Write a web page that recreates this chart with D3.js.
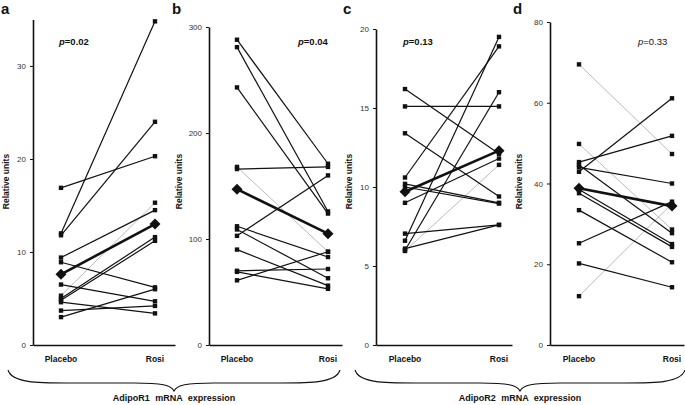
<!DOCTYPE html>
<html><head><meta charset="utf-8">
<script src="https://cdn.jsdelivr.net/npm/d3@7"></script>
<style>body{margin:0;background:#fff;} svg{display:block;font-family:"Liberation Sans",Arial,Helvetica,sans-serif;}</style>
</head><body><svg id="chart" width="685" height="405"></svg>
<script>
// ---------- data ----------
const groups = ["Placebo", "Rosi"];
const panelLetters = ["a", "b", "c", "d"];
const pValues = ["0.02", "0.04", "0.13", "0.33"];
const yLabel = "Relative units";
const geneLabels = ["AdipoR1 mRNA expression", "AdipoR2 mRNA expression"];

const aTicks = [0, 10, 20, 30];
const bTicks = [0, 100, 200, 300];
const cTicks = [0, 5, 10, 15, 20];
const dTicks = [0, 20, 40, 60, 80];

const aPlacebo = [16.9, 12.0, 11.8, 9.4, 8.9, 6.5, 5.3, 5.0, 4.8, 4.6, 3.7, 3.0];
const aRosi    = [20.3, 34.8, 24.0, 14.5, 6.2, 4.7, 15.3, 11.6, 11.2, 3.4, 4.2, 6.0];
const aGrey = [6];
const aMean = [7.6, 13.0];

const bPlacebo = [288, 281, 243, 168, 166, 112, 109, 103, 90, 70, 69, 61];
const bRosi    = [171, 126, 124, 88, 168, 83, 63, 160, 56, 71.7, 53, 88];
const bGrey = [3];
const bMean = [147, 105];

const cPlacebo = [16.2, 15.1, 13.4, 10.6, 10.2, 10.0, 9.0, 7.05, 6.6, 6.1, 6.0, 5.95];
const cRosi    = [12.1, 15.1, 9.4, 18.9, 9.0, 8.95, 11.8, 7.6, 19.5, 7.6, 16.0, 11.4];
const cGrey = [11];
const cMean = [9.7, 12.3];

const dPlacebo = [69.5, 49.8, 45.3, 44.6, 44.0, 42.9, 38.5, 37.6, 33.4, 25.2, 20.2, 12.1];
const dRosi    = [47.3, 28.6, 51.8, 27.7, 40.0, 61.1, 25.0, 24.3, 20.5, 35.5, 14.3, 35.0];
const dGrey = [0, 1, 11];
const dMean = [38.8, 34.4];

const yMaxes = [35, 300, 20, 80];

// ---------- layout ----------
const panels = [
  {placebo: aPlacebo, rosi: aRosi, grey: aGrey, mean: aMean, ticks: aTicks, yMax: yMaxes[0],
   axisX: 33, px: 61, rx: 155, xEnd: 175, top: 19.5, letterX: 1, labelX: 8.5, pX: 59, pW: "bold"},
  {placebo: bPlacebo, rosi: bRosi, grey: bGrey, mean: bMean, ticks: bTicks, yMax: yMaxes[1],
   axisX: 209, px: 237, rx: 328, xEnd: 342, top: 27, letterX: 172, labelX: 181.5, pX: 298, pW: "bold"},
  {placebo: cPlacebo, rosi: cRosi, grey: cGrey, mean: cMean, ticks: cTicks, yMax: yMaxes[2],
   axisX: 376, px: 405, rx: 499, xEnd: 512, top: 29, letterX: 343, labelX: 351.5, pX: 403, pW: "bold"},
  {placebo: dPlacebo, rosi: dRosi, grey: dGrey, mean: dMean, ticks: dTicks, yMax: yMaxes[3],
   axisX: 550, px: 579, rx: 672, xEnd: 684, top: 22, letterX: 513, labelX: 521.5, pX: 638, pW: "normal"}
];
const y0 = 345;

const svg = d3.select("#chart");

panels.forEach((p, i) => {
  const g = svg.append("g");
  const y = d3.scaleLinear().domain([0, p.yMax]).range([y0, p.top]);
  const x = d3.scalePoint().domain(groups).range([p.px, p.rx]);

  // y axis
  const ya = g.append("g").attr("transform", `translate(${p.axisX},0)`)
    .call(d3.axisLeft(y).tickValues(p.ticks).tickSize(3).tickPadding(4).tickSizeOuter(0).tickFormat(d3.format("d")));
  ya.select(".domain").attr("stroke", "#111").attr("stroke-width", 1.6);
  ya.selectAll(".tick line").attr("stroke", "#111").attr("stroke-width", 1);
  ya.selectAll(".tick text").attr("font-size", 8).attr("fill", "#333").attr("font-family", "Liberation Sans, Arial, sans-serif");

  // x axis
  const xl = d3.scaleLinear().domain([0, 1]).range([p.axisX, p.xEnd]);
  const xa = g.append("g").attr("transform", `translate(0,${y0})`)
    .call(d3.axisBottom(xl).tickValues([]).tickSizeOuter(0));
  xa.select(".domain").attr("stroke", "#111").attr("stroke-width", 1.6);

  // x labels
  g.selectAll("text.xl").data(groups).enter().append("text")
    .attr("x", d => x(d)).attr("y", 362).attr("text-anchor", "middle")
    .attr("font-size", 8.5).attr("font-weight", "bold").attr("fill", "#111").text(d => d);

  // y label
  g.append("text").attr("transform", `translate(${p.labelX},181.5) rotate(-90)`)
    .attr("text-anchor", "middle").attr("font-size", 8.5).attr("font-weight", "bold").attr("fill", "#111").text(yLabel);

  // panel letter
  g.append("text").attr("x", p.letterX).attr("y", 13.5).attr("font-size", 15).attr("font-weight", "bold")
    .attr("fill", "#111").text(panelLetters[i]);

  // p value
  const pt = g.append("text").attr("x", p.pX).attr("y", 45).attr("font-size", 9.5).attr("font-weight", p.pW).attr("fill", "#111");
  pt.append("tspan").attr("font-style", "italic").text("p");
  pt.append("tspan").text("=" + pValues[i]);

  const pairs = p.placebo.map((v, k) => ({k, a: v, b: p.rosi[k], grey: p.grey.includes(k)}));
  const order = pairs.filter(d => d.grey).concat(pairs.filter(d => !d.grey));

  g.selectAll("line.subj").data(order).enter().append("line")
    .attr("x1", x("Placebo")).attr("x2", x("Rosi"))
    .attr("y1", d => y(d.a)).attr("y2", d => y(d.b))
    .attr("stroke", d => d.grey ? "#aaa" : "#111")
    .attr("stroke-width", d => d.grey ? 0.8 : 1.2);

  const pts = [];
  pairs.forEach(d => { pts.push({g: "Placebo", v: d.a}); pts.push({g: "Rosi", v: d.b}); });
  const s = 4.4;
  g.selectAll("rect.pt").data(pts).enter().append("rect")
    .attr("x", d => x(d.g) - s / 2).attr("y", d => y(d.v) - s / 2)
    .attr("width", s).attr("height", s).attr("fill", "#111");

  // mean line
  g.append("line").attr("x1", x("Placebo")).attr("x2", x("Rosi"))
    .attr("y1", y(p.mean[0])).attr("y2", y(p.mean[1]))
    .attr("stroke", "#111").attr("stroke-width", 2.6);
  const dm = 5.5;
  g.selectAll("path.mean").data(groups.map((gr, k) => ({g: gr, v: p.mean[k]}))).enter().append("path")
    .attr("d", d => {
      const cx = x(d.g), cy = y(d.v);
      return `M${cx},${cy - dm}L${cx + dm},${cy}L${cx},${cy + dm}L${cx - dm},${cy}Z`;
    })
    .attr("fill", "#111");
});

// braces
const braces = [{x0: 8, x1: 340}, {x0: 355, x1: 685}];
braces.forEach((b, i) => {
  const top = 370, mid = 383, tip = 391;
  const xm = (b.x0 + b.x1) / 2;
  const path = `M${b.x0},${top} C${b.x0 + 4},${mid} ${b.x0 + 30},${mid} ${b.x0 + 60},${mid}
    L${xm - 40},${mid} C${xm - 12},${mid} ${xm - 3},${mid + 2} ${xm},${tip}
    C${xm + 3},${mid + 2} ${xm + 12},${mid} ${xm + 40},${mid}
    L${b.x1 - 60},${mid} C${b.x1 - 30},${mid} ${b.x1 - 4},${mid} ${b.x1},${top}`;
  svg.append("path").attr("d", path).attr("fill", "none").attr("stroke", "#111").attr("stroke-width", 1.1);
  svg.append("text").attr("x", xm).attr("y", 401).attr("text-anchor", "middle")
    .attr("font-size", 9).attr("font-weight", "bold").attr("word-spacing", 3).attr("fill", "#111")
    .text(geneLabels[i]);
});
</script></body></html>
